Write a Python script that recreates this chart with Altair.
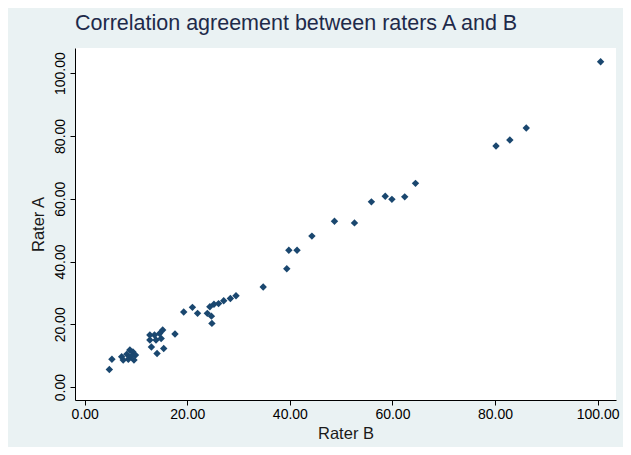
import altair as alt
import pandas as pd

rater_b = [100.6, 80.2, 82.9, 86.1,
           64.5, 62.4, 59.9, 58.6, 55.9, 52.6, 48.7, 44.3, 41.4, 39.8, 39.4, 34.8,
           29.5, 28.4, 27.1, 26.1, 25.2, 24.4, 23.9, 24.7, 24.8, 22.0, 21.0, 19.3, 17.6,
           15.2, 14.6, 13.6, 12.7, 12.7, 13.9, 14.9, 13.0, 15.4, 14.1,
           4.8, 5.3, 7.2, 8.2, 8.8, 9.4, 9.9, 8.5, 9.6, 7.5, 9.1]
rater_a = [103.6, 76.8, 78.7, 82.5,
           64.9, 60.6, 59.8, 60.8, 59.0, 52.3, 52.8, 48.1, 43.6, 43.6, 37.7, 31.9,
           29.1, 28.2, 27.5, 26.6, 26.4, 25.6, 23.5, 22.6, 20.3, 23.5, 25.4, 23.9, 16.9,
           18.2, 17.1, 16.6, 16.6, 15.0, 15.0, 15.5, 12.8, 12.3, 10.7,
           5.6, 8.9, 9.7, 10.5, 11.8, 11.2, 10.2, 8.9, 8.6, 8.6, 9.9]
tick_values = [0, 20, 40, 60, 80, 100]

df = pd.DataFrame({"Rater B": rater_b, "Rater A": rater_a})

font = "Liberation Sans"

chart = alt.Chart(df).mark_point(
    shape="diamond", filled=True, size=55, color="#1A476F", opacity=1
).encode(
    x=alt.X("Rater B:Q",
            scale=alt.Scale(domain=[-1.9, 103.6], nice=False, zero=False),
            axis=alt.Axis(values=tick_values, format=".2f", grid=False,
                          title="Rater B", labelFontSize=14, titleFontSize=16.5,
                          labelPadding=2, titlePadding=4, labelFlush=False)),
    y=alt.Y("Rater A:Q",
            scale=alt.Scale(domain=[-4.1, 108], nice=False, zero=False),
            axis=alt.Axis(values=tick_values, format=".2f", grid=False,
                          title="Rater A", labelFontSize=14, titleFontSize=16.5,
                          labelAngle=270, labelAlign="center", labelBaseline="bottom",
                          labelPadding=3, titlePadding=7, labelFlush=False)),
).properties(
    width=541,
    height=352,
    title=alt.TitleParams("Correlation agreement between raters A and B",
                          anchor="start", frame="group", fontSize=21.5,
                          fontWeight="normal", color="#1e2a4a", font=font, offset=14),
    autosize=alt.AutoSizeParams(type="none"),
    padding={"left": 67, "top": 40, "right": 7, "bottom": 47},
    background="#EAF2F3",
).configure_view(
    fill="white", stroke=None
).configure_axis(
    domainColor="black", tickColor="black", tickSize=5, labelColor="black",
    titleColor="#1a1a1a", labelFont=font, titleFont=font, titleFontWeight="normal",
    domainWidth=1
)

chart.save("out.html", embed_options={"renderer": "svg", "actions": False})
